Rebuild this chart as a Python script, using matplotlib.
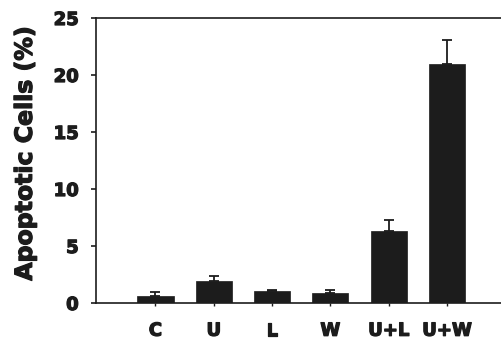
import matplotlib
matplotlib.use("Agg")
import matplotlib.pyplot as plt
import matplotlib.patheffects as pe
import numpy as np

categories = ["C", "U", "L", "W", "U+L", "U+W"]
values = [0.65, 1.9, 1.05, 0.9, 6.3, 21.0]
errors = [0.3, 0.5, 0.05, 0.25, 1.0, 2.05]
yticks = [0, 5, 10, 15, 20, 25]

plt.rcParams['font.family'] = ['DejaVu Sans']
plt.rcParams['font.weight'] = 'bold'

ink = "#1c1c1c"
heavy = [pe.withStroke(linewidth=0.9, foreground=ink)]

fig = plt.figure(figsize=(5.02, 3.41), dpi=100)
ax = fig.add_axes([96/502, 1-303/341, 1-96/502+0.004, (303-18)/341])

x = np.arange(len(categories))
ax.bar(x, values, width=0.62, color=ink, edgecolor=ink, linewidth=0.5, zorder=2)
ax.errorbar(x, values, yerr=[np.zeros(len(errors)), errors], fmt="none",
            ecolor=ink, elinewidth=1.3, capsize=3.5, capthick=1.3, zorder=3)

ax.set_xlim(-1.02, 5.98)
ax.set_ylim(0, 25)
ax.set_yticks(yticks)
ax.set_yticklabels([str(t) for t in yticks], fontsize=13, fontweight='bold')
ax.set_xticks(x)
ax.set_xticklabels(categories, fontsize=13, fontweight='bold')
for lab in ax.get_xticklabels() + ax.get_yticklabels():
    lab.set_path_effects(heavy)

for s in ["left", "top", "bottom"]:
    ax.spines[s].set_linewidth(1.2)
    ax.spines[s].set_color(ink)
ax.spines["right"].set_visible(False)

ax.tick_params(axis='y', direction='out', length=3.5, width=1.2, pad=9, colors=ink)
ax.tick_params(axis='x', direction='out', length=2.5, width=1.0, pad=11, colors=ink)

yl = ax.set_ylabel("Apoptotic Cells (%)", fontsize=17, fontweight='bold', color=ink)
yl.set_path_effects(heavy)
ax.yaxis.set_label_coords(-0.145, 0.525)

fig.savefig("out.png", dpi=100)
